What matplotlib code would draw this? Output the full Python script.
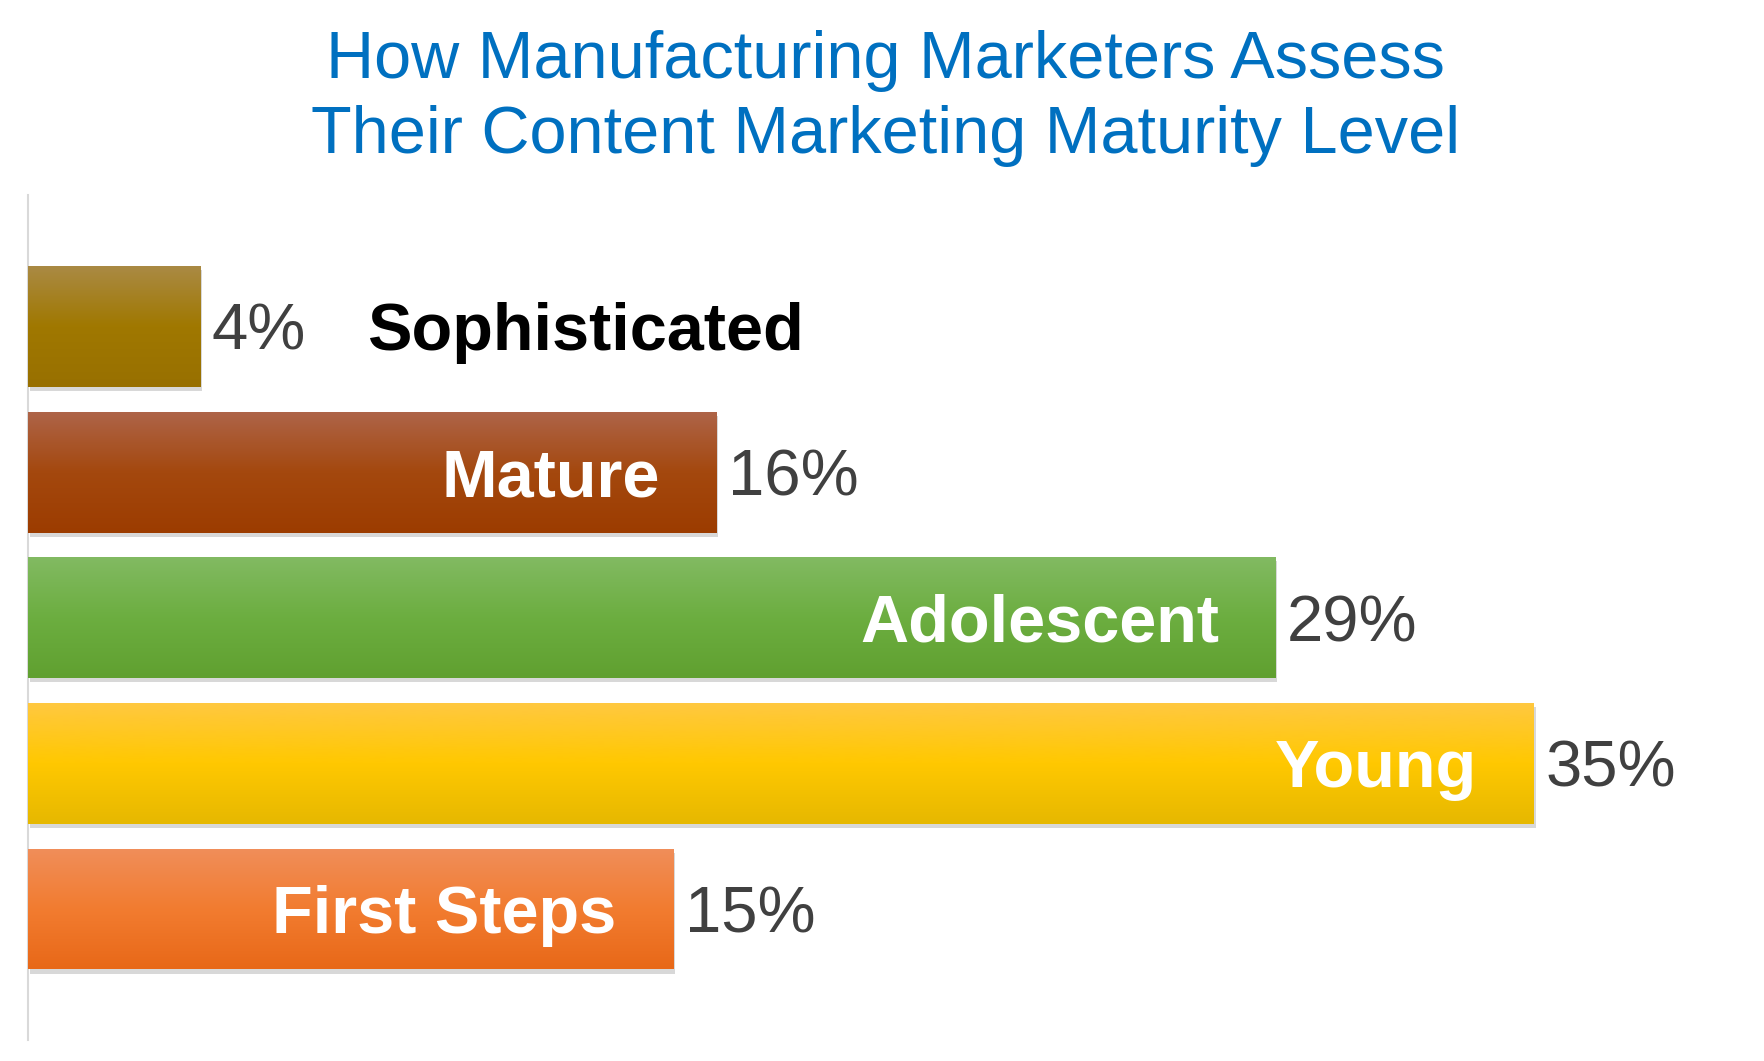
import numpy as np
import matplotlib.pyplot as plt
import matplotlib.patheffects as pe
from matplotlib.colors import LinearSegmentedColormap

plt.rcParams['font.family'] = ['Liberation Sans', 'DejaVu Sans']

# data
levels = ["Sophisticated", "Mature", "Adolescent", "Young", "First Steps"]
shares = [4, 16, 29, 35, 15]
# gradient colours: top, middle, bottom
bar_colors = [
    ["#AA8A44", "#A07800", "#987000"],
    ["#AE6448", "#A4480E", "#9C3C00"],
    ["#82BA62", "#6CAE40", "#60A030"],
    ["#FFC840", "#FFC800", "#E6B800"],
    ["#F08E5A", "#F27C30", "#E86818"],
]
label_inside = [False, True, True, True, True]

fig = plt.figure(figsize=(17.64, 10.61), dpi=100)
ax = fig.add_axes([0.016, 0.0198, 0.9757, 0.796])

ypos = np.arange(len(levels))
bars = ax.barh(ypos, shares, height=0.83, color=[c[1] for c in bar_colors],
               zorder=2)

grad = np.linspace(0, 1, 256).reshape(-1, 1)
for b, cols in zip(bars, bar_colors):
    b.set_path_effects([pe.SimplePatchShadow(offset=(1, -3), shadow_rgbFace="#909090",
                                             alpha=0.35), pe.Normal()])
    cmap = LinearSegmentedColormap.from_list("g", cols)
    x0, y0, w, h = b.get_x(), b.get_y(), b.get_width(), b.get_height()
    im = ax.imshow(grad, cmap=cmap, aspect="auto", origin="upper",
                   extent=[x0, x0 + w, y0 + h, y0], zorder=3)
    im.set_clip_path(b)

for i, (lvl, v) in enumerate(zip(levels, shares)):
    ax.annotate(f"{v}%", xy=(v, i), xytext=(8, 0), textcoords="offset points",
                ha="left", va="center_baseline", fontsize=47, color="#404040", zorder=4)
    if label_inside[i]:
        ax.annotate(lvl, xy=(v, i), xytext=(-41, 0), textcoords="offset points",
                    ha="right", va="center_baseline", fontsize=48, fontweight="bold",
                    color="white", zorder=4)
    else:
        ax.annotate(lvl, xy=(v, i), xytext=(120, 0), textcoords="offset points",
                    ha="left", va="center_baseline", fontsize=48, fontweight="bold",
                    color="black", zorder=4)

ax.set_xlim(0, 40)
ax.set_ylim(len(levels) - 0.1, -0.9)
for s in ["top", "right", "bottom"]:
    ax.spines[s].set_visible(False)
ax.spines["left"].set_color("#D9D9D9")
ax.spines["left"].set_linewidth(1.5)
ax.set_xticks([])
ax.set_yticks([])

fig.text(0.502, 0.972, "How Manufacturing Marketers Assess\nTheir Content Marketing Maturity Level",
         ha="center", va="top", fontsize=48, color="#0070C0", linespacing=1.27)

fig.savefig("out.png", dpi=100)
